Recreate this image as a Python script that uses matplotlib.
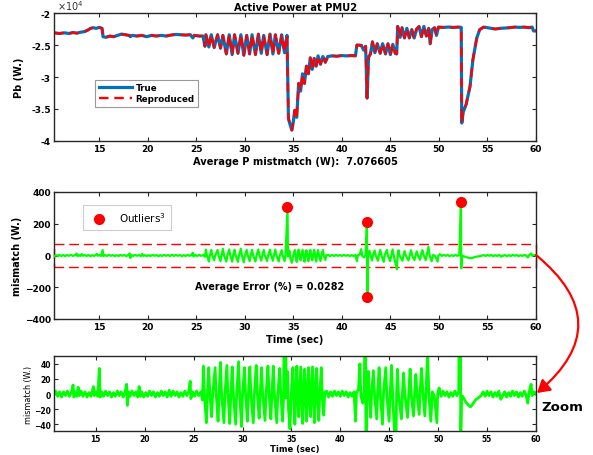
import matplotlib
matplotlib.use("Agg")
import matplotlib.pyplot as plt
from matplotlib.patches import Rectangle, FancyArrowPatch
from matplotlib.ticker import FuncFormatter, MultipleLocator

plt.rcParams['font.family'] = ['DejaVu Sans']
plt.rcParams['mathtext.fontset'] = 'dejavusans'

# ---------------- data ----------------
# active power at PMU2 (W), true measurement
t_power = [10.38, 10.9, 11.4, 11.9, 12.3, 12.7, 13.1, 13.5, 13.8, 14.1, 14.4, 14.7, 15.0, 15.3,
           15.4, 15.7, 16.1, 16.5, 16.9, 17.3, 17.7, 18.1, 18.2, 18.4, 18.9, 19.4, 19.9, 20.4,
           20.9, 21.4, 21.9, 22.4, 22.9, 23.4, 23.9, 24.4, 24.65, 24.8, 25.3, 25.7, 25.9,
           26.0, 26.3, 26.55, 26.85, 27.2, 27.5, 27.75, 28.1, 28.4, 28.7, 28.95, 29.3, 29.6,
           29.9, 30.2, 30.5, 30.75, 31.1, 31.4, 31.7, 31.95, 32.3, 32.6, 32.9, 33.15, 33.5,
           33.8, 34.1, 34.35, 34.5, 34.7, 34.85, 35.0, 35.15, 35.35, 35.55, 35.75, 35.95,
           36.15, 36.35, 36.55, 36.75, 36.95, 37.15, 37.35, 37.55, 37.8, 38.05, 38.3, 38.55,
           39.0, 39.5, 40.0, 40.5, 41.0, 41.4, 41.55, 42.0, 42.25, 42.45, 42.6, 42.75, 42.95,
           43.15, 43.4, 43.65, 43.95, 44.2, 44.5, 44.75, 45.0, 45.25, 45.5, 45.65, 45.75,
           46.0, 46.2, 46.45, 46.7, 46.95, 47.2, 47.45, 47.7, 47.95, 48.2, 48.45, 48.7, 48.95,
           49.1, 49.3, 49.55, 49.75, 49.95, 50.5, 51.0, 51.5, 52.0, 52.3, 52.35, 52.5, 52.8,
           53.2, 53.5, 53.9, 54.2, 54.6, 55.2, 55.8, 56.3, 56.8, 57.3, 57.8, 58.3, 58.8, 59.3,
           59.6, 59.75, 60.0]
p_true = [-23100, -23200, -23100, -23200, -23050, -23150, -23000, -22900, -22700, -22400,
          -22300, -22400, -22250, -22400, -23700, -23800, -23600, -23700, -23500, -23300,
          -23400, -23500, -23700, -23500, -23600, -23500, -23700, -23500, -23600, -23500,
          -23600, -23450, -23350, -23400, -23450, -23400, -23900, -23500, -23600, -23600,
          -25200, -23400, -25300, -23400, -25400, -23400, -25500, -23500, -26400, -23400,
          -26500, -23400, -26300, -23400, -26600, -23500, -26400, -23400, -26500, -23300,
          -26300, -23500, -26500, -23300, -26400, -23400, -26300, -23400, -26200, -23500,
          -36500, -37600, -38300, -37000, -35200, -36300, -31000, -32200, -29500, -31000,
          -28300, -29500, -27000, -28800, -27100, -28300, -26700, -28000, -26800, -27700,
          -26800, -26700, -26750, -26650, -26700, -26650, -26700, -25000, -25050, -25800,
          -25200, -33300, -26900, -26400, -24500, -26200, -24800, -26300, -24800, -26400,
          -24800, -26500, -24900, -26300, -26400, -22100, -23800, -22300, -23900, -22400,
          -23900, -22600, -23900, -22500, -22100, -23700, -22100, -23600, -22400, -24800,
          -22600, -22300, -23500, -22200, -22250, -22200, -22250, -22200, -22250, -37200,
          -35500, -34300, -31500, -27300, -23900, -22600, -22200, -22350, -22500, -22400,
          -22350, -22300, -22200, -22250, -22200, -22300, -22200, -22800, -22800]
# reproduced power (W); indistinguishable from the true trace at this scale
p_reproduced = list(p_true)

# mismatch between true and reproduced power (W)
t_mis = [10.38, 10.55, 10.7, 10.9, 11.1, 11.3, 11.5, 11.7, 11.9, 12.1, 12.3, 12.5, 12.68, 12.76,
         12.9, 13.05, 13.2, 13.3, 13.5, 13.7, 13.9, 14.1, 14.3, 14.5, 14.76, 14.85, 15.0, 15.2,
         15.36, 15.44, 15.6, 15.8, 16.0, 16.2, 16.4, 16.6, 16.8, 17.0, 17.2, 17.4, 17.6, 17.8,
         18.0, 18.15, 18.22, 18.35, 18.5, 18.7, 18.9, 19.1, 19.3, 19.43, 19.55, 19.7, 19.9,
         20.1, 20.3, 20.5, 20.7, 20.9, 21.1, 21.3, 21.5, 21.7, 21.9, 22.1, 22.3, 22.5, 22.7,
         22.9, 23.1, 23.3, 23.5, 23.7, 23.9, 24.1, 24.3, 24.5, 24.65, 24.72, 24.9, 25.1, 25.3,
         25.5, 25.75, 25.9, 26.0, 26.1, 26.3, 26.4, 26.55, 26.65, 26.85, 26.95, 27.2, 27.3,
         27.5, 27.6, 27.75, 27.85, 28.1, 28.2, 28.4, 28.5, 28.7, 28.8, 28.95, 29.05, 29.3,
         29.4, 29.6, 29.7, 29.9, 30.0, 30.2, 30.3, 30.5, 30.6, 30.75, 30.85, 31.1, 31.2, 31.4,
         31.5, 31.7, 31.8, 31.95, 32.05, 32.3, 32.4, 32.6, 32.7, 32.9, 33.0, 33.15, 33.25,
         33.5, 33.6, 33.8, 33.9, 34.1, 34.2, 34.4, 34.45, 34.6, 34.7, 34.85, 35.0, 35.15,
         35.25, 35.35, 35.45, 35.55, 35.65, 35.75, 35.85, 35.95, 36.05, 36.15, 36.25, 36.35,
         36.45, 36.55, 36.65, 36.75, 36.85, 36.95, 37.05, 37.15, 37.25, 37.35, 37.45, 37.55,
         37.65, 37.8, 37.9, 38.05, 38.15, 38.3, 38.4, 38.6, 38.8, 39.0, 39.2, 39.4, 39.6,
         39.8, 40.0, 40.2, 40.4, 40.6, 40.8, 41.0, 41.2, 41.4, 41.55, 41.65, 41.85, 42.0,
         42.1, 42.3, 42.45, 42.58, 42.63, 42.7, 42.85, 42.95, 43.11, 43.2, 43.38, 43.5,
         43.72, 43.82, 43.96, 44.1, 44.31, 44.42, 44.64, 44.75, 44.98, 45.1, 45.23, 45.35,
         45.67, 45.75, 45.84, 45.95, 46.25, 46.35, 46.46, 46.6, 46.87, 47.0, 47.13, 47.25,
         47.48, 47.6, 47.72, 47.85, 48.06, 48.15, 48.3, 48.45, 48.64, 48.75, 48.92, 49.05,
         49.25, 49.4, 49.6, 49.87, 49.95, 50.1, 50.3, 50.5, 50.7, 50.9, 51.1, 51.3, 51.5,
         51.7, 51.9, 52.1, 52.27, 52.3, 52.4, 52.5, 52.8, 53.1, 53.3, 53.5, 53.8, 54.1, 54.4,
         54.6, 54.8, 55.0, 55.2, 55.4, 55.6, 55.8, 56.0, 56.2, 56.4, 56.6, 56.8, 57.0, 57.2,
         57.4, 57.6, 57.8, 58.0, 58.2, 58.4, 58.6, 58.8, 59.0, 59.16, 59.3, 59.5, 59.6, 59.8,
         60.0]
mismatch = [-5, 3, -2, 4, -3, 3, -4, 3, -2, 4, -3, 2, 12, -4,
            3, -3, 9, -2, 4, -3, 3, -4, 2, -3, 10, -2, 3, -3,
            34, -4, 3, -3, 4, -2, 3, -4, 2, -3, 4, -2, 3, -4,
            3, 13, -15, 3, -3, 4, -2, 3, -4, 10, -3, 3, -4,
            2, -3, 4, -2, 3, -4, 2, -3, 4, -2, 3, -4, 5, -3,
            4, -2, 3, -4, 2, -3, 4, -2, 3, 17, -6, 3, -3, 4,
            -2, 3, -8, 37, 2, -38, -2, 35, 3, -30, -1, 35, 2,
            -36, -2, 42, 3, -38, -1, 38, 2, -39, -2, 36, 3, -40,
            -1, 43, 2, -43, -2, 35, 3, -36, -1, 36, 2, -38, -2, 38,
            3, -32, -1, 35, 2, -35, -2, 37, 3, -33, -1, 37, 2,
            -38, -2, 34, 3, -36, -2, 305, -5, 30, -20, -46, 3, 35,
            -2, -40, 2, 37, -3, -30, 2, 36, -1, -39, 3, 33,
            -2, -36, 2, 35, -3, -30, 2, 36, -2, -38, 3, 34,
            -1, -35, 2, 35, -3, -28, 2, 4, -4, 3, -3, 4, -2,
            3, -3, 4, -2, 3, -4, 2, -3, 3, -36, 2, 6, 40,
            -3, -12, 8, 210, -260, 3, 30, -2, -31, 2, 31, -1,
            -33, 2, 35, -2, -40, 3, 35, -1, -36, 2, 38, -2,
            -87, 3, 33, -1, -33, 2, 28, -2, -31, 3, 33, -1,
            -29, 2, 26, -2, -27, 3, 34, -1, -29, 2, 55, -2,
            -36, 3, -2, -38, 2, 8, -3, 4, -2, 3, -4, 2, -3,
            4, -2, 3, 340, -80, -2, -3, -10, -15, -17, -14, -8, -5, -2,
            3, -3, 4, -2, 3, -4, 2, -3, 4, -7, -2, 3, -4, 2,
            -3, 4, -2, 3, -4, 2, -3, 4, -2, -12, 3, 13, -2, 3,
            0]

# outliers flagged in the mismatch trace
outlier_t = [34.4, 42.6, 42.6, 52.3]
outlier_v = [305, 210, -260, 340]

error_band = 75          # W, tolerance band around zero
avg_p_mismatch = 7.076605
avg_error_pct = 0.0282

# ---------------- figure ----------------
W, H = 593, 456
fig = plt.figure(figsize=(W / 100, H / 100), dpi=100)

def frac(x0, y0, x1, y1):
    return [x0 / W, 1 - y1 / H, (x1 - x0) / W, (y1 - y0) / H]

ax1 = fig.add_axes(frac(54.3, 14, 536, 142))
ax2 = fig.add_axes(frac(54.3, 193, 536, 320))
ax3 = fig.add_axes(frac(54.3, 357, 536, 432))

spine_col = '#262626'
green = '#00ff00'
blue = '#0072bd'
red = '#ff0000'

def style(ax, fs):
    for s in ax.spines.values():
        s.set_color(spine_col)
        s.set_linewidth(1.0)
    ax.tick_params(direction='in', top=True, right=True, length=3, width=0.8,
                   labelsize=fs, colors=spine_col, pad=2.5)
    for lab in ax.get_xticklabels() + ax.get_yticklabels():
        lab.set_fontweight('bold')
        lab.set_color('black')

# --- top: active power ---
ax1.plot(t_power, p_true, color=blue, lw=2.3, label='True')
ax1.plot(t_power, p_reproduced, color=red, lw=1.7, dashes=(4, 2.5), label='Reproduced')
ax1.set_xlim(10.38, 60)
ax1.set_ylim(-40000, -20000)
ax1.xaxis.set_major_locator(MultipleLocator(5))
ax1.yaxis.set_major_locator(MultipleLocator(5000))
ax1.yaxis.set_major_formatter(FuncFormatter(lambda v, p: f'{v / 1e4:g}'))
style(ax1, 6.5)
ax1.text(0.005, 1.005, r'$\times\mathregular{10^4}$', transform=ax1.transAxes, fontsize=7,
         ha='left', va='bottom', color='#333333')
ax1.set_title('Active Power at PMU2', fontsize=7.1, fontweight='bold', pad=2)
ax1.set_xlabel(f'Average P mistmatch (W):  {avg_p_mismatch:.6f}', fontsize=7.1,
               fontweight='bold', labelpad=1.5)
ax1.set_ylabel('Pb (W.)', fontsize=7, fontweight='bold', labelpad=5)
leg1 = ax1.legend(loc='upper left', bbox_to_anchor=(0.085, 0.48),
                  prop={'weight': 'bold', 'size': 6.3}, handlelength=3.8, borderpad=0.4,
                  labelspacing=0.25, handletextpad=0.4, fancybox=False, framealpha=1,
                  edgecolor='#999999', borderaxespad=0)
leg1.get_frame().set_linewidth(0.8)

# --- middle: mismatch with outliers ---
ax2.plot(t_mis, mismatch, color=green, lw=1.6, zorder=3)
ax2.plot(outlier_t, outlier_v, 'o', color=red, ms=7, zorder=4, label='Outliers$^3$',
         linestyle='none')
ax2.add_patch(Rectangle((10.38, -error_band), 60 - 10.38, 2 * error_band, fill=False,
                        edgecolor=red, lw=1.0, linestyle=(0, (7, 3.5)), zorder=2,
                        clip_on=False))
ax2.set_xlim(10.38, 60)
ax2.set_ylim(-400, 400)
ax2.xaxis.set_major_locator(MultipleLocator(5))
ax2.yaxis.set_major_locator(MultipleLocator(200))
style(ax2, 6.5)
ax2.text(24.9, -195, f'Average Error (%) = {avg_error_pct}', fontsize=6.9,
         fontweight='bold', ha='left', va='center')
ax2.set_xlabel('Time (sec)', fontsize=7, fontweight='bold', labelpad=1.5)
ax2.set_ylabel('mismatch (W.)', fontsize=7, fontweight='bold', labelpad=2)
leg2 = ax2.legend(loc='upper left', bbox_to_anchor=(0.06, 0.895), fontsize=7.5,
                  handlelength=2.0, borderpad=0.5, handletextpad=0.9, fancybox=False,
                  framealpha=1, edgecolor='#cccccc', borderaxespad=0)
leg2.get_frame().set_linewidth(0.8)

# --- bottom: zoomed mismatch ---
ax3.plot(t_mis, mismatch, color=green, lw=2.0)
ax3.set_xlim(10.76, 60)
ax3.set_ylim(-49, 50.5)
ax3.xaxis.set_major_locator(MultipleLocator(5))
ax3.yaxis.set_major_locator(MultipleLocator(20))
style(ax3, 5.5)
ax3.set_xlabel('Time (sec)', fontsize=6, fontweight='bold', labelpad=0.5)
ax3.set_ylabel('mismatch (W.)', fontsize=5.8, labelpad=1)

# curved arrow linking the zero line to the zoomed panel
arrow = FancyArrowPatch(posA=(536 / W, 1 - 256 / H), posB=(537 / W, 1 - 394 / H),
                        transform=fig.transFigure, connectionstyle='arc3,rad=-0.6',
                        arrowstyle='-|>,head_length=5,head_width=3', color=red, lw=1.6,
                        mutation_scale=1.5, shrinkA=0, shrinkB=0)
fig.patches.append(arrow)
fig.text(541 / W, 1 - 408 / H, 'Zoom', fontsize=9.5, fontweight='bold', ha='left',
         va='center')

fig.savefig('out.png', dpi=100)
